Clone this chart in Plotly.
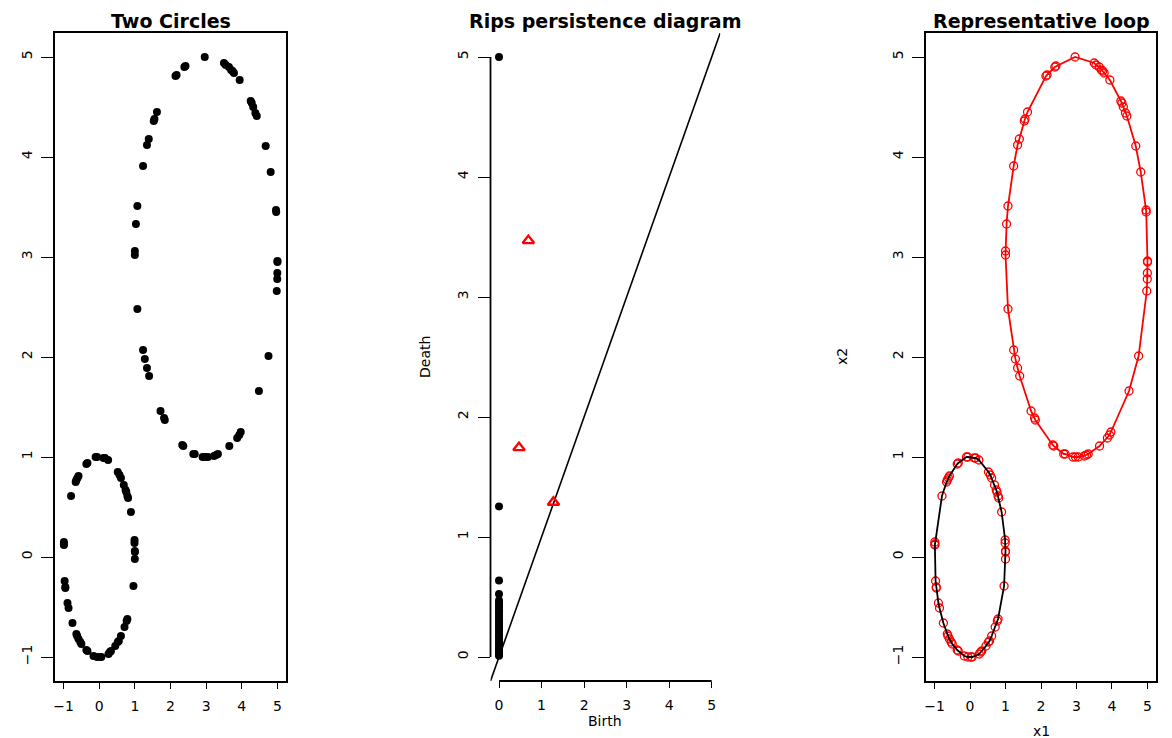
import numpy as np
import plotly.graph_objects as go

# ---- data: big circle (centre 3,3 r 2) ----
big_x = [2.96, 2.39, 2.42, 2.17, 2.14, 3.50, 3.55, 3.64, 3.70, 3.74, 3.78, 3.94,
         4.25, 4.28, 4.32, 4.38, 4.42, 4.67, 4.81, 4.96, 4.965,
         5.00, 5.00, 4.997, 4.994, 4.98, 4.75, 4.48, 3.97, 3.93, 3.87, 3.65,
         3.33, 3.28, 3.22, 3.05, 2.97, 2.90, 2.68, 2.64, 2.36, 2.33,
         1.84, 1.82, 1.72, 1.40, 1.34, 1.28, 1.23, 1.07, 1.00, 1.00,
         1.03, 1.07, 1.23, 1.34, 1.39, 1.53, 1.55, 1.62]
big_y = [5.00, 4.90, 4.91, 4.82, 4.81, 4.94, 4.92, 4.90, 4.87, 4.86, 4.84, 4.77,
         4.56, 4.54, 4.50, 4.44, 4.41, 4.11, 3.85, 3.47, 3.45,
         2.96, 2.95, 2.84, 2.78, 2.66, 2.01, 1.66, 1.25, 1.22, 1.19, 1.11,
         1.03, 1.02, 1.01, 1.00, 1.00, 1.00, 1.03, 1.03, 1.11, 1.12,
         1.37, 1.39, 1.46, 1.81, 1.89, 1.98, 2.07, 2.48, 3.02, 3.06,
         3.33, 3.51, 3.91, 4.12, 4.18, 4.36, 4.38, 4.45]

# ---- data: small circle (centre 0,0 r 1) ----
small_x = [-0.10, -0.06, 0.12, 0.16, 0.25, -0.36, -0.33, -0.58, -0.61, -0.64, -0.66,
           -0.79, 0.52, 0.57, 0.61, 0.69, 0.74, 0.76, 0.79, 0.81, 0.89,
           0.99, 0.99, 1.00, 1.00, 1.00, 0.96, -0.99, -0.99, -0.99,
           -0.97, -0.95, -0.95, -0.89, -0.86, -0.75, -0.64, -0.62, -0.58, -0.53, -0.50,
           -0.36, -0.33, -0.16, -0.06, 0.03, 0.06, 0.26, 0.30, 0.33,
           0.45, 0.52, 0.55, 0.61, 0.71, 0.77, 0.79]
small_y = [1.00, 1.00, 0.99, 0.99, 0.97, 0.93, 0.94, 0.81, 0.79, 0.77, 0.75,
           0.61, 0.85, 0.82, 0.79, 0.72, 0.67, 0.65, 0.61, 0.59, 0.45,
           0.17, 0.14, 0.06, 0.05, -0.02, -0.29, 0.15, 0.12, 0.13,
           -0.24, -0.30, -0.31, -0.46, -0.51, -0.66, -0.77, -0.79, -0.82, -0.85, -0.87,
           -0.93, -0.94, -0.99, -1.00, -1.00, -1.00, -0.97, -0.95, -0.94,
           -0.89, -0.85, -0.84, -0.79, -0.70, -0.64, -0.62]

# ---- persistence diagram ----
h0_birth = [0.0] * 30
h0_death = [5.0, 1.255, 0.637, 0.525, 0.47, 0.45, 0.43, 0.41, 0.39, 0.37, 0.35,
            0.33, 0.31, 0.29, 0.27, 0.25, 0.23, 0.21, 0.19, 0.17, 0.15, 0.13,
            0.11, 0.09, 0.07, 0.05, 0.04, 0.03, 0.02, 0.01]
h1_birth = [0.69, 0.47, 1.28]
h1_death = [3.47, 1.745, 1.29]

ticks_xy = [-1, 0, 1, 2, 3, 4, 5]
ticks_diag = [0, 1, 2, 3, 4, 5]
range_xy = [-1.24, 5.24]
range_diag = [-0.2, 5.2]

OFF = 8  # page body margin
W, H = 1172 - OFF, 738 - OFF


def px(a, b):
    return [(a - OFF) / W, (b - OFF) / W]


def py(top, bottom):
    return [1 - (bottom - OFF) / H, 1 - (top - OFF) / H]


def ppx(a):
    return (a - OFF) / W


def ppy(b):
    return 1 - (b - OFF) / H


dom1 = px(55, 286)
dom2 = px(490.5, 720.2)
dom3 = px(926, 1156)
ydom = py(33, 681)

FONT = "DejaVu Sans"

fig = go.Figure()

# panel 1
fig.add_trace(go.Scatter(x=small_x + big_x, y=small_y + big_y, mode="markers",
                         marker=dict(color="black", size=8, symbol="circle"),
                         xaxis="x", yaxis="y", showlegend=False))

# panel 2
fig.add_trace(go.Scatter(x=range_diag, y=range_diag, mode="lines",
                         line=dict(color="black", width=1.6),
                         xaxis="x2", yaxis="y2", showlegend=False))
fig.add_trace(go.Scatter(x=h0_birth, y=h0_death, mode="markers",
                         marker=dict(color="black", size=8, symbol="circle"),
                         xaxis="x2", yaxis="y2", showlegend=False))
fig.add_trace(go.Scatter(x=h1_birth, y=h1_death, mode="markers",
                         marker=dict(color="rgba(0,0,0,0)", size=10, symbol="triangle-up",
                                     line=dict(color="red", width=2.4)),
                         xaxis="x2", yaxis="y2", showlegend=False))


def loop(xs, ys, cx, cy):
    xs = np.array(xs); ys = np.array(ys)
    order = np.argsort(np.arctan2(ys - cy, xs - cx))
    order = np.append(order, order[0])
    return xs[order], ys[order]


# panel 3
fig.add_trace(go.Scatter(x=small_x + big_x, y=small_y + big_y, mode="markers",
                         marker=dict(color="rgba(0,0,0,0)", size=8, symbol="circle",
                                     line=dict(color="red", width=1.3)),
                         xaxis="x3", yaxis="y3", showlegend=False))
lx, ly = loop(big_x, big_y, 3, 3)
fig.add_trace(go.Scatter(x=lx, y=ly, mode="lines", line=dict(color="red", width=1.8),
                         xaxis="x3", yaxis="y3", showlegend=False))
sx, sy = loop(small_x, small_y, 0, 0)
fig.add_trace(go.Scatter(x=sx, y=sy, mode="lines", line=dict(color="black", width=1.8),
                         xaxis="x3", yaxis="y3", showlegend=False))

tickfont = dict(family=FONT, size=14, color="black")
common = dict(showgrid=False, zeroline=False, ticks="outside", tickcolor="black",
              tickwidth=1.2, tickfont=tickfont, automargin=False)
boxed = dict(showline=True, mirror=True, linecolor="black", linewidth=1.8)

fig.update_layout(
    width=W, height=H,
    margin=dict(l=0, r=0, t=0, b=0),
    paper_bgcolor="white", plot_bgcolor="white",
    xaxis=dict(domain=dom1, range=range_xy, tickvals=ticks_xy, ticklen=6,
               ticklabelstandoff=5, anchor="y", **common, **boxed),
    yaxis=dict(domain=ydom, range=range_xy, tickvals=ticks_xy, ticklen=12,
               tickangle=-90, ticklabelstandoff=4, anchor="x", **common, **boxed),
    xaxis2=dict(domain=dom2, range=range_diag, tickvals=ticks_diag, ticklen=6,
                ticklabelstandoff=5, anchor="y2", showline=False, **common),
    yaxis2=dict(domain=ydom, range=range_diag, tickvals=ticks_diag, ticklen=12,
                tickangle=-90, ticklabelstandoff=4, anchor="x2", showline=False, **common),
    xaxis3=dict(domain=dom3, range=range_xy, tickvals=ticks_xy, ticklen=6,
                ticklabelstandoff=5, anchor="y3", **common, **boxed),
    yaxis3=dict(domain=ydom, range=range_xy, tickvals=ticks_xy, ticklen=12,
                tickangle=-90, ticklabelstandoff=4, anchor="x3", **common, **boxed),
)

# axis lines of the persistence diagram (from first to last tick, R style)
fig.add_shape(type="line", xref="x2 domain", yref="y2", x0=0, x1=0,
              y0=ticks_diag[0], y1=ticks_diag[-1], line=dict(color="black", width=1.8))
fig.add_shape(type="line", xref="x2", yref="y2 domain", y0=0, y1=0,
              x0=ticks_diag[0], x1=ticks_diag[-1], line=dict(color="black", width=1.8))

titles = [("Two Circles", dom1), ("Rips persistence diagram", dom2),
          ("Representative loop", dom3)]
for t, d in titles:
    fig.add_annotation(text="<b>%s</b>" % t, x=(d[0] + d[1]) / 2, y=1.0,
                       xref="paper", yref="paper", showarrow=False,
                       xanchor="center", yanchor="top",
                       font=dict(family=FONT, size=19, color="black"))

labels = [("Birth", ppx(605), ppy(721), 0), ("Death", ppx(425), ppy(357), -90),
          ("x1", ppx(1041), ppy(731), 0), ("x2", ppx(842), ppy(357), -90)]
for t, x, y, a in labels:
    fig.add_annotation(text=t, x=x, y=y, xref="paper", yref="paper", showarrow=False,
                       xanchor="center", yanchor="middle", textangle=a,
                       font=dict(family=FONT, size=14, color="black"))

fig.write_html("out.html")
